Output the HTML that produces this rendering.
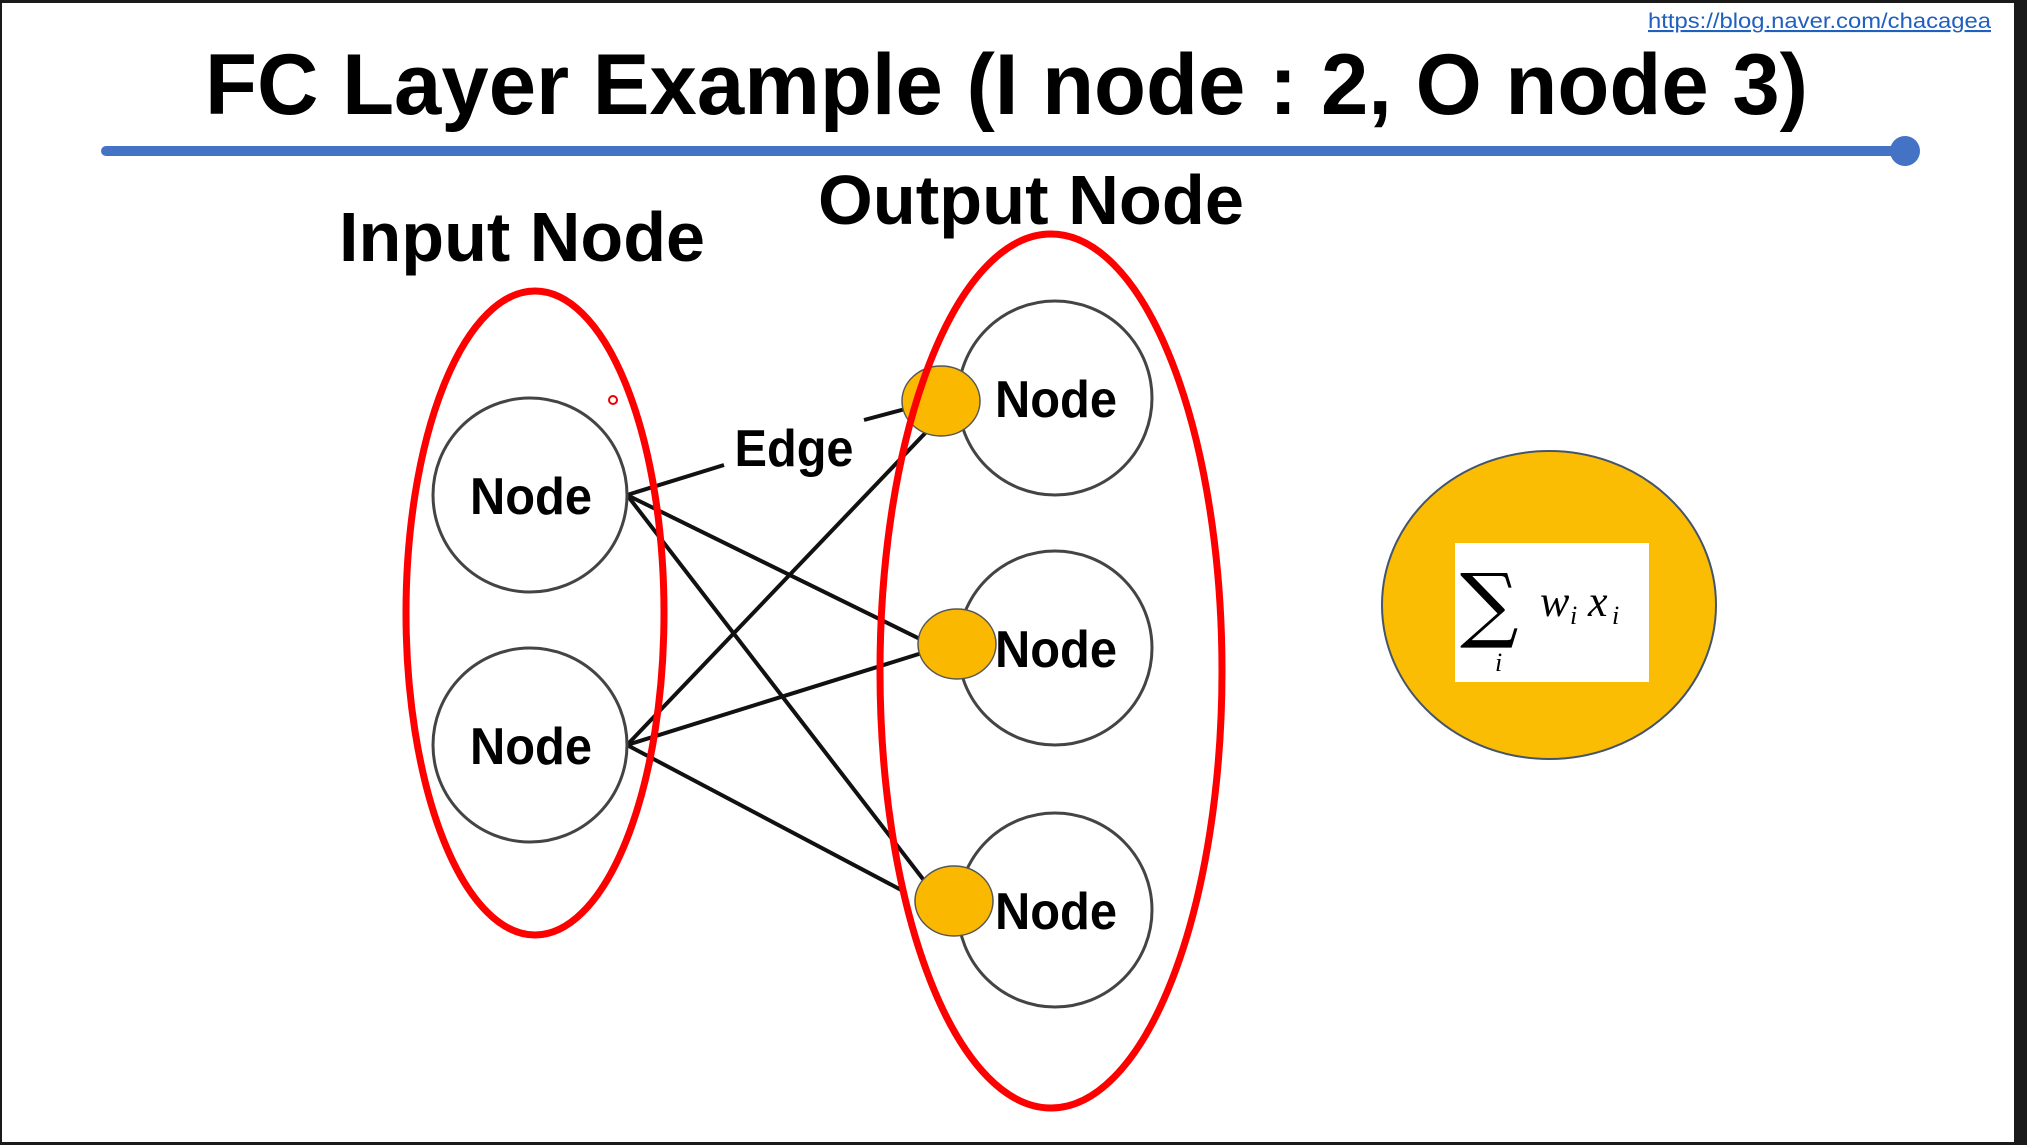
<!DOCTYPE html>
<html><head><meta charset="utf-8"><style>
html,body{margin:0;padding:0;background:#fff}
svg{display:block}
</style></head><body>
<svg width="2027" height="1145" viewBox="0 0 2027 1145" xmlns="http://www.w3.org/2000/svg">
<rect x="0" y="0" width="2027" height="1145" fill="#1a1a1a"/>
<rect x="2" y="3" width="2012" height="1139" fill="#fff"/>
<text x="1648" y="28" font-family="Liberation Sans, sans-serif" font-size="21" fill="#1f5fbf" textLength="343" lengthAdjust="spacingAndGlyphs" text-decoration="underline">https://blog.naver.com/chacagea</text>
<text x="205" y="114" font-family="Liberation Sans, sans-serif" font-weight="bold" font-size="86" fill="#000" textLength="1603" lengthAdjust="spacingAndGlyphs">FC Layer Example (I node : 2, O node 3)</text>
<line x1="106" y1="151" x2="1905" y2="151" stroke="#4472c4" stroke-width="10" stroke-linecap="round"/>
<circle cx="1905" cy="151" r="15" fill="#4472c4"/>
<text x="818" y="224" font-family="Liberation Sans, sans-serif" font-weight="bold" font-size="70" fill="#000" textLength="426" lengthAdjust="spacingAndGlyphs">Output Node</text>
<text x="339" y="261" font-family="Liberation Sans, sans-serif" font-weight="bold" font-size="70" fill="#000" textLength="366" lengthAdjust="spacingAndGlyphs">Input Node</text>
<g stroke="#111" stroke-width="4" fill="none">
<line x1="627" y1="495" x2="724" y2="465"/>
<line x1="864" y1="420" x2="913" y2="407"/>
<line x1="627" y1="495" x2="922" y2="640"/>
<line x1="627" y1="495" x2="926" y2="883"/>
<line x1="627" y1="745" x2="931" y2="427"/>
<line x1="627" y1="745" x2="922" y2="653"/>
<line x1="627" y1="745" x2="905" y2="892"/>
</g>
<g fill="none" stroke="#444" stroke-width="3">
<circle cx="530" cy="495" r="97"/>
<circle cx="530" cy="745" r="97"/>
<circle cx="1055" cy="398" r="97"/>
<circle cx="1055" cy="648" r="97"/>
<circle cx="1055" cy="910" r="97"/>
</g>
<g fill="#fbb800" stroke="#555" stroke-width="1.5">
<ellipse cx="941" cy="401" rx="39" ry="35"/>
<ellipse cx="957" cy="644" rx="39" ry="35"/>
<ellipse cx="954" cy="901" rx="39" ry="35"/>
</g>
<g font-family="Liberation Sans, sans-serif" font-weight="bold" font-size="52" fill="#000" text-anchor="middle">
<text x="531" y="514" textLength="122" lengthAdjust="spacingAndGlyphs">Node</text>
<text x="531" y="764" textLength="122" lengthAdjust="spacingAndGlyphs">Node</text>
<text x="1056" y="417" textLength="122" lengthAdjust="spacingAndGlyphs">Node</text>
<text x="1056" y="667" textLength="122" lengthAdjust="spacingAndGlyphs">Node</text>
<text x="1056" y="929" textLength="122" lengthAdjust="spacingAndGlyphs">Node</text>
<text x="794" y="466" textLength="119" lengthAdjust="spacingAndGlyphs">Edge</text>
</g>
<g fill="none" stroke="#f00" stroke-width="7">
<ellipse cx="535" cy="613" rx="129" ry="322"/>
<ellipse cx="1051" cy="671" rx="171" ry="437"/>
</g>
<circle cx="613" cy="400" r="4" fill="none" stroke="#e00" stroke-width="2"/>
<ellipse cx="1549" cy="605" rx="167" ry="154" fill="#fbbc04" stroke="#44546a" stroke-width="2"/>
<rect x="1455" y="543" width="194" height="139" fill="#fff"/>
<text x="1460" y="632" font-family="DejaVu Serif, serif" font-size="82" fill="#000">∑</text>
<text x="1495" y="671" font-family="Liberation Serif, serif" font-style="italic" font-size="26" fill="#000">i</text>
<text x="1540" y="616" font-family="Liberation Serif, serif" font-style="italic" font-size="44" fill="#000">w</text>
<text x="1570" y="624" font-family="Liberation Serif, serif" font-style="italic" font-size="26" fill="#000">i</text>
<text x="1588" y="616" font-family="Liberation Serif, serif" font-style="italic" font-size="44" fill="#000">x</text>
<text x="1612" y="624" font-family="Liberation Serif, serif" font-style="italic" font-size="26" fill="#000">i</text>
</svg>
</body></html>
